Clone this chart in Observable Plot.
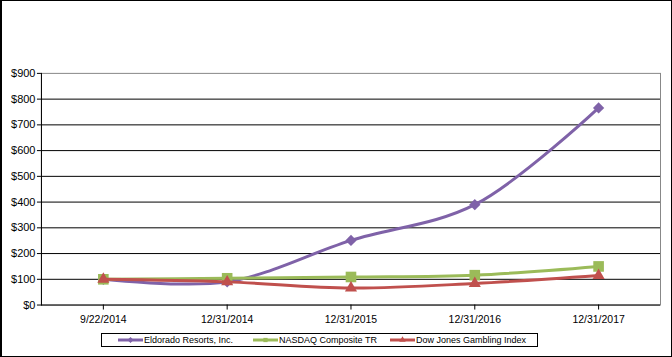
<!DOCTYPE html>
<html>
<head>
<meta charset="utf-8">
<script src="https://cdn.jsdelivr.net/npm/d3@7"></script>
<script src="https://cdn.jsdelivr.net/npm/@observablehq/plot@0.6"></script>
<style>
  html, body { margin: 0; padding: 0; background: #fff; }
  #wrap { position: relative; width: 672px; height: 357px; box-sizing: border-box; border: 1px solid #000; border-left-width: 2px; font-family: "Liberation Sans", Arial, sans-serif; overflow: hidden; }
  #chart { position: absolute; left: -2px; top: -1px; }
  #legend { position: absolute; left: 99px; top: 332px; width: 437px; height: 14px; border: 1px solid #000; box-sizing: border-box; display: flex; align-items: center; font-size: 9px; white-space: nowrap; }
  #legend .item { display: flex; align-items: center; }
  #legend svg { display: block; }
</style>
</head>
<body>
<div id="wrap"><div id="chart"></div><div id="legend"></div></div>
<script>
const dates = ["9/22/2014", "12/31/2014", "12/31/2015", "12/31/2016", "12/31/2017"];
const eldorado = [100, 90, 251, 390, 766];
const nasdaq = [100, 104, 109, 116, 150];
const dowJones = [100, 90, 66, 84, 115];
const yTicks = [0, 100, 200, 300, 400, 500, 600, 700, 800, 900];
const seriesNames = ["Eldorado Resorts, Inc.", "NASDAQ Composite TR", "Dow Jones Gambling Index"];
const seriesColors = ["#7F62A8", "#9BBB59", "#C0504D"];
const seriesSymbols = ["square", "square", "triangle"];
const seriesRotate = [45, 0, 0];
const seriesValues = [eldorado, nasdaq, dowJones];

const rows = [];
seriesNames.forEach((s, i) => dates.forEach((d, j) => rows.push({series: s, date: d, value: seriesValues[i][j]})));

const marks = [
  Plot.frame({stroke: "#888"}),
  Plot.ruleY(yTicks.filter(t => t > 0 && t < 900), {stroke: "#000", strokeWidth: 1}),
  Plot.axisY({ticks: yTicks, tickFormat: d => "$" + d, tickSize: 4, tickPadding: 2, fontSize: 11, stroke: "#000"}),
  Plot.axisX({tickSize: 5, tickPadding: 6, fontSize: 10.5, stroke: "#000"}),
  Plot.frame({anchor: "left", stroke: "#000"}),
  Plot.ruleY([0], {stroke: "#000"})
];
seriesNames.forEach((s, i) => {
  const data = rows.filter(r => r.series === s);
  marks.push(Plot.line(data, {x: "date", y: "value", stroke: seriesColors[i], strokeWidth: 3, curve: "catmull-rom"}));
  marks.push(Plot.dot(data, {x: "date", y: "value", fill: seriesColors[i], symbol: seriesSymbols[i], rotate: seriesRotate[i], r: i === 1 ? 6 : (i === 0 ? 4.5 : 4.5)}));
});

const chart = Plot.plot({
  width: 672,
  height: 331,
  marginTop: 73,
  marginBottom: 26,
  marginLeft: 41,
  marginRight: 11,
  style: {fontFamily: "Liberation Sans, Arial, sans-serif", color: "#000", background: "transparent"},
  x: {type: "point", domain: dates, padding: 0.5, label: null},
  y: {domain: [0, 900], label: null},
  marks
});
document.getElementById("chart").appendChild(chart);

const legend = document.getElementById("legend");
const gaps = [16, 20, 13];
seriesNames.forEach((s, i) => {
  const item = document.createElement("div");
  item.className = "item";
  item.style.marginLeft = gaps[i] + "px";
  const symType = i === 2 ? d3.symbolTriangle : d3.symbolSquare;
  const rot = seriesRotate[i];
  const sym = d3.symbol().type(symType).size(18)();
  item.innerHTML = `<svg width="25" height="8"><line x1="0" x2="25" y1="4" y2="4" stroke="${seriesColors[i]}" stroke-width="3"/><path transform="translate(12.5,4) rotate(${rot})" d="${sym}" fill="${seriesColors[i]}"/></svg><span style="margin-left:1px">${s}</span>`;
  legend.appendChild(item);
});
</script>
</body>
</html>
